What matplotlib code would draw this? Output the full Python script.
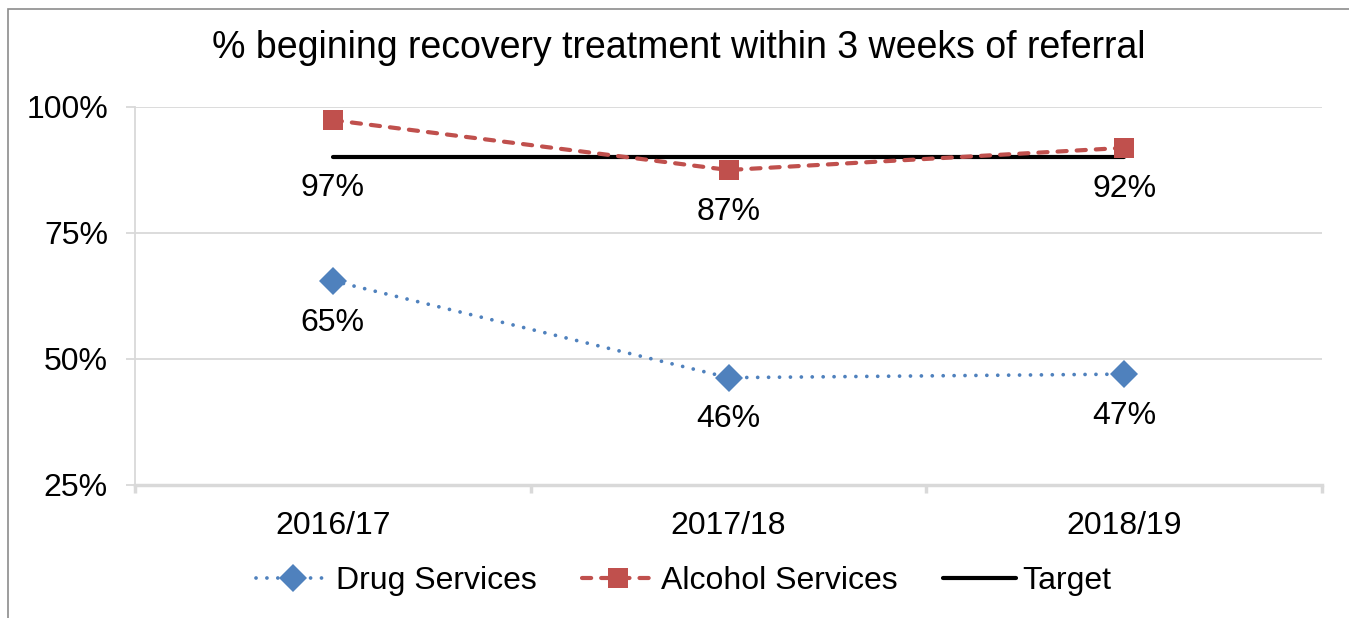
import matplotlib
matplotlib.use("Agg")
import matplotlib.pyplot as plt
from matplotlib.patches import Rectangle
from matplotlib.ticker import FixedLocator, NullFormatter

plt.rcParams['font.family'] = ['Liberation Sans', 'DejaVu Sans']

categories = ["2016/17", "2017/18", "2018/19"]
drug = [65.5, 46.3, 47.0]
alcohol = [97.4, 87.5, 91.9]
target = [90, 90, 90]
drug_labels = ["65%", "46%", "47%"]
alcohol_labels = ["97%", "87%", "92%"]
yticks = [25, 50, 75, 100]
ytick_labels = ["25%", "50%", "75%", "100%"]
title = "% begining recovery treatment within 3 weeks of referral"

W, H = 1349, 618
FS = 23
fig = plt.figure(figsize=(W / 100, H / 100), dpi=100)
fig.patch.set_facecolor("white")

# outer frame (cropped on right and bottom)
fig.add_artist(Rectangle((8 / W, -0.1), 1.2, 1 - 9 / H + 0.1, transform=fig.transFigure,
                         fill=False, edgecolor="#8c8c8c", linewidth=1.2))

ax = fig.add_axes([135 / W, 1 - 485 / H, (1322 - 135) / W, (485 - 107) / H])
x = list(range(len(categories)))

grid_c = "#d9d9d9"
ax.set_ylim(25, 100)
ax.set_xlim(-0.5, len(categories) - 0.5)
ax.set_yticks(yticks)
ax.set_yticklabels(ytick_labels)
ax.yaxis.grid(True, color=grid_c, linewidth=1.3)
ax.set_axisbelow(True)
for s in ["top", "right"]:
    ax.spines[s].set_visible(False)
ax.spines["left"].set_color(grid_c)
ax.spines["left"].set_linewidth(1.3)
ax.spines["bottom"].set_color(grid_c)
ax.spines["bottom"].set_linewidth(2.5)
ax.tick_params(axis="y", length=6.5, width=1.3, color=grid_c, pad=13, labelsize=FS)

ax.set_xticks(x)
ax.set_xticklabels(categories)
ax.tick_params(axis="x", which="major", length=0, pad=19, labelsize=FS)
ax.xaxis.set_minor_locator(FixedLocator([i - 0.5 for i in range(len(categories) + 1)]))
ax.xaxis.set_minor_formatter(NullFormatter())
ax.tick_params(axis="x", which="minor", length=6, width=2.5, color=grid_c)

blue = "#4f81bd"
red = "#c0504d"

ax.plot(x, target, color="black", linewidth=3, solid_capstyle="round", label="Target", zorder=3)
ax.plot(x, drug, color=blue, linewidth=2.7, linestyle=(0, (0.01, 2.9)), dash_capstyle="round",
        marker="D", markersize=14, markeredgewidth=0, label="Drug Services", zorder=4)
ax.plot(x, alcohol, color=red, linewidth=3, linestyle=(0, (2.2, 2.4)), dash_capstyle="round",
        marker="s", markersize=15, markeredgewidth=0, label="Alcohol Services", zorder=4)

# data labels below points (offsets in points)
drug_off = [-30, -30, -30]
alc_off = [-49, -30, -30]
for xi, v, lab, off in zip(x, drug, drug_labels, drug_off):
    ax.annotate(lab, (xi, v), xytext=(0, off), textcoords="offset points",
                ha="center", va="center", fontsize=FS)
for xi, v, lab, off in zip(x, alcohol, alcohol_labels, alc_off):
    ax.annotate(lab, (xi, v), xytext=(0, off), textcoords="offset points",
                ha="center", va="center", fontsize=FS)

fig.text(679 / W, 1 - 48 / H, title, ha="center", va="center", fontsize=27)

h, l = ax.get_legend_handles_labels()
order = [1, 2, 0]
fig.legend([h[i] for i in order], [l[i] for i in order], loc="center",
           bbox_to_anchor=(684 / W, 1 - 581 / H), ncol=3, frameon=False, fontsize=FS,
           handlelength=2.3, handletextpad=0.2, columnspacing=1.4)

fig.savefig("out.png", dpi=100, facecolor="white")
